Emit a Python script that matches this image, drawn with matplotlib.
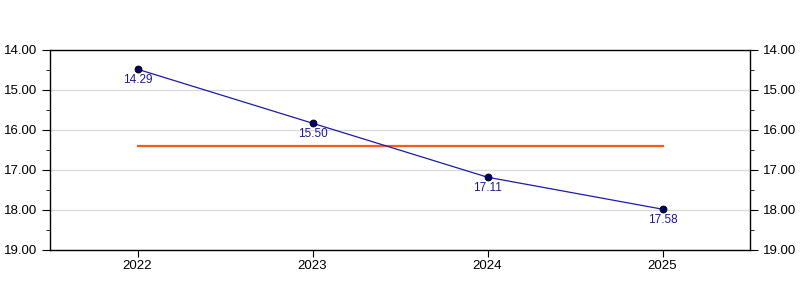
import matplotlib
matplotlib.use("Agg")
import matplotlib.pyplot as plt
from matplotlib.ticker import MultipleLocator, FormatStrFormatter

years = [2022, 2023, 2024, 2025]
values = [14.48, 15.83, 17.18, 17.98]
labels = ["14.29", "15.50", "17.11", "17.58"]
average = 16.4

plt.rcParams["font.family"] = ["Liberation Sans", "DejaVu Sans"]

fig = plt.figure(figsize=(8, 3), dpi=100)
ax = fig.add_axes([0.0625, 1 / 6, 0.875, 2 / 3])

ax.plot(years, [average] * len(years), color="#ff5a14", lw=1.6, zorder=2)
ax.plot(years, values, color="#1c1ca8", lw=0.9, marker="o", ms=5,
        markerfacecolor="#000066", markeredgecolor="#000000", markeredgewidth=0.6, zorder=3)
for x, y, t in zip(years, values, labels):
    ax.annotate(t, (x, y), xytext=(0, -3.5), textcoords="offset points",
                ha="center", va="top", fontsize=8.5, color="#1a1a99")

ax.set_xlim(2021.5, 2025.5)
ax.set_ylim(19, 14)
ax.set_xticks(years)
ax.set_xticklabels([str(y) for y in years])
ax.yaxis.set_major_locator(MultipleLocator(1))
ax.yaxis.set_minor_locator(MultipleLocator(0.5))
ax.yaxis.set_major_formatter(FormatStrFormatter("%.2f"))
ax.tick_params(axis="both", which="both", direction="out", labelsize=9.5, colors="black")
ax.tick_params(axis="y", which="major", length=6, pad=3)
ax.tick_params(axis="y", which="minor", length=3)
ax.tick_params(axis="x", length=5, pad=2)
ax.tick_params(axis="y", which="both", right=True, labelright=True)
ax.grid(axis="y", which="major", color="#d9d9d9", lw=0.9)
ax.set_axisbelow(True)
for s in ax.spines.values():
    s.set_linewidth(1.0)

fig.savefig("out.png", dpi=100)
